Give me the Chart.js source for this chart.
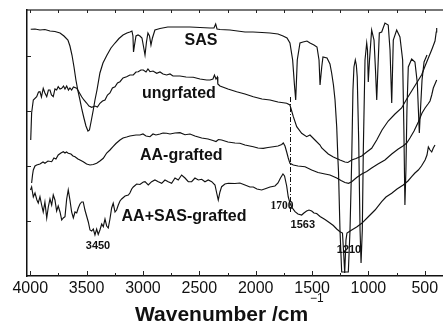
<!DOCTYPE html>
<html><head><meta charset="utf-8">
<script src="https://cdn.jsdelivr.net/npm/chart.js@4"></script>
<style>html,body{margin:0;padding:0;background:#fff}canvas{display:block}</style>
</head><body>
<canvas id="c" width="443" height="324"></canvas>
<script>
// Wavenumber (cm^-1), transmittance (arbitrary units, offset curves)
const SAS = [[3996,246.7],[3958,247],[3914,246],[3870,246.5],[3825,245],[3781,244.5],[3736,243],[3701,240],[3666,236],[3648,230],[3630,221],[3612,209],[3595,196],[3577,185],[3559,176],[3541,166],[3524,158],[3506,150],[3488,145],[3475,146],[3461,154],[3441,166],[3426,176],[3408,186],[3382,203],[3355,213],[3319,221],[3284,228],[3248,233],[3213,237.5],[3177,241],[3142,243],[3116,244],[3098,245],[3089,240],[3084,224],[3075,231],[3062,240],[3044,241],[3027,240],[3009,238],[2996,230],[2982,221],[2969,234],[2956,243],[2942,240],[2929,231],[2916,238],[2894,246],[2849,247.5],[2780,249],[2672,249],[2583,249],[2494,248.5],[2405,248],[2370,248],[2355,252],[2343,247],[2317,246.5],[2228,246],[2095,244],[2024,244],[1944,243.5],[1873,243],[1802,242],[1757,240],[1722,238],[1696,233],[1672,216],[1656,191],[1645,176],[1638,196],[1631,216],[1607,233],[1580,234],[1545,235],[1518,233],[1483,231],[1456,229],[1438,216],[1429,191],[1414,209],[1403,219],[1367,218],[1341,212],[1326,203],[1310,191],[1296,176],[1281,149],[1270,116],[1265,104],[1252,46],[1237,4],[1178,4],[1163,46],[1148,116],[1137,186],[1128,209],[1116,216],[1107,211],[1099,199],[1086,136],[1074,46],[1065,13],[1054,46],[1045,126],[1030,216],[1015,233],[1008,226],[1001,194],[990,216],[971,246],[950,236],[937,206],[926,176],[916,206],[903,243],[882,244],[853,253],[824,251],[808,226],[793,173],[779,236],[749,246],[720,239],[696,216],[685,146],[676,71],[667,106],[658,166],[646,209],[616,217],[587,214],[566,193],[548,143],[538,166],[524,196],[506,214],[480,221]];
const UNGRAFTED = [[3996,136],[3988,163],[3973,176],[3943,179.3],[3927,184],[3914,184.3],[3901,179],[3885,187.7],[3870,183],[3854,179.3],[3839,186],[3825,186],[3812,181],[3796,179.3],[3781,187],[3766,186],[3752,189.3],[3736,187],[3721,187.7],[3705,190],[3692,187],[3677,190],[3661,186],[3648,188],[3633,186],[3617,189],[3588,187.7],[3568,184],[3544,179.3],[3524,176],[3500,173],[3479,170],[3455,168.7],[3426,170],[3404,169],[3382,172.7],[3359,175],[3337,176],[3315,181],[3293,183],[3271,188],[3248,189.3],[3226,193],[3204,194.3],[3177,198],[3145,199.3],[3116,201],[3086,201],[3062,204],[3042,204.3],[3018,206],[2997,206],[2973,204],[2956,207],[2938,204.3],[2911,205],[2878,202.7],[2849,204],[2822,202],[2790,201],[2760,202],[2734,200],[2672,200],[2618,199],[2554,198.7],[2494,197],[2435,196],[2405,196],[2379,197],[2366,201],[2352,197],[2339,199],[2336,192],[2317,190],[2246,187],[2169,184.3],[2095,182],[2021,179.3],[1944,177],[1873,176],[1802,174],[1725,172.7],[1696,171],[1666,159.3],[1636,149.3],[1592,142.7],[1548,139.3],[1518,141],[1474,136],[1429,131],[1414,128],[1356,122],[1311,119],[1252,116],[1208,114],[1182,113.5],[1148,116],[1110,117.5],[1059,120],[1015,124],[971,127.7],[926,136],[879,146],[824,155],[764,162],[705,168],[660,177],[616,185],[572,193],[527,201.3],[497,210],[468,218],[438,226.3],[422,231],[409,235],[398,244],[394,248]];
const AA_GRAFTED = [[3988,93],[3980,101],[3973,106],[3958,110],[3943,111],[3914,112],[3887,114],[3870,112.7],[3843,115],[3810,114.3],[3790,118],[3772,117],[3752,121],[3728,123],[3707,124.3],[3692,123],[3679,124],[3663,122.7],[3639,122],[3621,120],[3603,119.3],[3577,117],[3559,116],[3530,114.3],[3500,112],[3470,111],[3441,111.5],[3411,112.7],[3382,115],[3352,117.7],[3322,123],[3293,126],[3266,129.3],[3240,132.5],[3204,136],[3177,138],[3145,139],[3116,140],[3089,140.5],[3062,141],[3027,141],[3000,142],[2973,140],[2938,139.3],[2911,142],[2885,141],[2849,142],[2822,143],[2790,142.7],[2760,142],[2716,143],[2672,143.3],[2627,141.3],[2583,142],[2539,140],[2479,138],[2423,137],[2379,135.5],[2352,134.5],[2330,136.5],[2302,136],[2246,134],[2184,133],[2140,132.7],[2095,131],[2021,129.3],[1980,128],[1933,127.7],[1891,128.5],[1844,129.3],[1802,130],[1769,131.5],[1755,133],[1740,130],[1725,124],[1711,118],[1696,112.7],[1666,111],[1625,110],[1562,109.3],[1503,106],[1447,103.5],[1385,102],[1341,101],[1281,98],[1243,95.5],[1208,93.5],[1176,92.7],[1148,94.3],[1104,98.5],[1059,102],[1015,104.5],[971,108],[915,112],[853,116],[793,122],[735,127],[693,130],[660,133],[631,138],[595,145],[557,154],[524,163],[497,168],[471,172],[453,175],[438,181],[424,188],[409,192],[394,196]];
const AA_SAS_GRAFTED = [[3998,86],[3988,89],[3973,79],[3958,83],[3941,76],[3929,73],[3914,79.3],[3899,71],[3885,64],[3870,74],[3854,58],[3840,69],[3825,77],[3810,71],[3796,81],[3781,76],[3766,65],[3752,70],[3736,64],[3721,56],[3707,58],[3692,59.3],[3677,77],[3663,86],[3648,76],[3633,64],[3618,58],[3603,64],[3588,63],[3574,68],[3559,72],[3544,74],[3530,74],[3515,66],[3500,60],[3485,54],[3470,46],[3455,45],[3441,47],[3426,41],[3411,47],[3397,41.5],[3382,46],[3366,52],[3352,49.3],[3337,57],[3322,50],[3308,48],[3293,57],[3278,68],[3264,72.7],[3248,64],[3234,66],[3219,71],[3204,75],[3189,77],[3159,80],[3130,81],[3116,83],[3100,87],[3086,89],[3056,92],[3027,91.5],[2997,94],[2982,94.3],[2953,91],[2923,94.3],[2894,96],[2864,94.3],[2834,92.7],[2805,96],[2776,94.3],[2746,92.7],[2716,98],[2687,96],[2657,101],[2627,98],[2598,94.3],[2568,94.3],[2539,98],[2509,96],[2479,96.7],[2450,94.3],[2421,96],[2390,94.3],[2361,91],[2346,83],[2332,76],[2317,84],[2302,89.3],[2273,92],[2243,92.7],[2184,92.5],[2140,93],[2095,91],[2051,89],[2021,89],[1989,87],[1947,86],[1909,87.5],[1873,89],[1829,90],[1802,93],[1780,98],[1758,102],[1744,100],[1725,90],[1711,79],[1696,73],[1681,69],[1651,64.3],[1625,62],[1592,61],[1572,63],[1548,65],[1527,66],[1503,65],[1483,63],[1459,62.5],[1429,59.5],[1385,56.5],[1341,53],[1311,50.5],[1281,47],[1252,44.3],[1230,43],[1221,26],[1210,3],[1199,36],[1190,43],[1148,46],[1104,49],[1059,52.7],[1003,59],[941,66],[882,74.3],[844,79],[793,82.7],[746,87],[691,91],[649,95],[616,99.3],[587,103],[557,106],[529,110],[497,116],[480,121],[468,129],[453,126],[438,124],[424,128],[409,131]];
const MARKER_1700 = [[1691,179],[1691,64]];
const X_TICKS = [4000,3750,3500,3250,3000,2750,2500,2250,2000,1750,1500,1250,1000,750,500];
const Y_TICKS = [55,110,165,220];
const CURVE_LABELS = [["SAS",2485,235],["ungrfated",2681,182],["AA-grafted",2660,120],["AA+SAS-grafted",2636,59]];
const PEAK_LABELS = [["3450",3399,30,"sans"],["1700",1767,70.3,"serif"],["1563",1582,51,"sans"],["1210",1172,26,"sans"]];

const toPts = a => a.map(p => ({x:p[0], y:p[1]}));
const lineDs = (d, extra) => Object.assign({data: toPts(d), borderColor:'#111', borderWidth:1.15, pointRadius:0, tension:0, fill:false}, extra||{});

const SANS = '"Liberation Sans", Arial, sans-serif';
const SERIF = '"Liberation Serif", "Times New Roman", serif';

const decor = {
  id:'decor',
  afterDraw(chart){
    const ctx = chart.ctx, x = chart.scales.x, y = chart.scales.y, a = chart.chartArea;
    ctx.save();
    ctx.strokeStyle = '#222'; ctx.lineWidth = 1;
    X_TICKS.forEach(t => {
      const px = Math.round(x.getPixelForValue(t)) + 0.5;
      const major = t % 500 === 0;
      ctx.beginPath(); ctx.moveTo(px, a.bottom); ctx.lineTo(px, a.bottom - (major ? 5 : 3)); ctx.stroke();
      ctx.beginPath(); ctx.moveTo(px, a.top); ctx.lineTo(px, a.top + 3); ctx.stroke();
    });
    Y_TICKS.forEach(t => {
      const py = Math.round(y.getPixelForValue(t)) + 0.5;
      ctx.beginPath(); ctx.moveTo(a.left, py); ctx.lineTo(a.left + 4, py); ctx.stroke();
    });
    ctx.fillStyle = '#111';
    ctx.textAlign = 'center'; ctx.textBaseline = 'middle';
    ctx.font = 'bold 16px ' + SANS;
    CURVE_LABELS.forEach(l => ctx.fillText(l[0], x.getPixelForValue(l[1]), y.getPixelForValue(l[2])));
    PEAK_LABELS.forEach(l => {
      ctx.font = l[3] === 'serif' ? 'bold 11.5px ' + SERIF : 'bold 11px ' + SANS;
      ctx.fillText(l[0], x.getPixelForValue(l[1]), y.getPixelForValue(l[2]));
    });
    // axis title
    ctx.textAlign = 'left'; ctx.textBaseline = 'alphabetic';
    ctx.font = 'bold 21px ' + SANS;
    const t = 'Wavenumber /cm';
    const w = ctx.measureText(t).width;
    const tx = 135;
    ctx.fillText(t, tx, 321);
    ctx.font = '12px ' + SANS;
    ctx.fillText('\u22121', tx + w + 2, 302);
    ctx.restore();
  }
};

new Chart(document.getElementById('c'), {
  type:'line',
  data:{datasets:[
    lineDs(SAS), lineDs(UNGRAFTED), lineDs(AA_GRAFTED), lineDs(AA_SAS_GRAFTED),
    lineDs(MARKER_1700, {borderDash:[5,2,1,2], borderWidth:1})
  ]},
  options:{
    responsive:false, animation:false, devicePixelRatio:1,
    layout:{padding:0},
    plugins:{legend:{display:false}, tooltip:{enabled:false}, title:{display:false}},
    scales:{
      x:{type:'linear', position:'bottom', reverse:true, min:338, max:4029,
        afterBuildTicks: s => { s.ticks = X_TICKS.map(v => ({value:v})); },
        afterFit: s => { s.height = 48; },
        grid:{display:true, color:'rgba(0,0,0,0)', drawOnChartArea:false, drawTicks:false},
        border:{display:true, color:'#111', width:1.5},
        ticks:{autoSkip:false, maxRotation:0, padding:3, color:'#111',
          font:{family:SANS, size:16},
          callback: v => (v % 500 === 0 ? String(v) : '')}
      },
      x2:{type:'linear', position:'top', reverse:true, min:338, max:4029,
        afterFit: s => { s.height = 10; },
        grid:{display:true, color:'rgba(0,0,0,0)', drawOnChartArea:false, drawTicks:false},
        border:{display:true, color:'#777', width:2},
        ticks:{display:false}
      },
      y:{type:'linear', position:'left', min:0, max:266,
        afterFit: s => { s.width = 27; },
        grid:{display:true, color:'rgba(0,0,0,0)', drawOnChartArea:false, drawTicks:false},
        border:{display:true, color:'#111', width:1.5},
        ticks:{display:false}
      }
    }
  },
  plugins:[decor]
});
</script>
</body></html>
